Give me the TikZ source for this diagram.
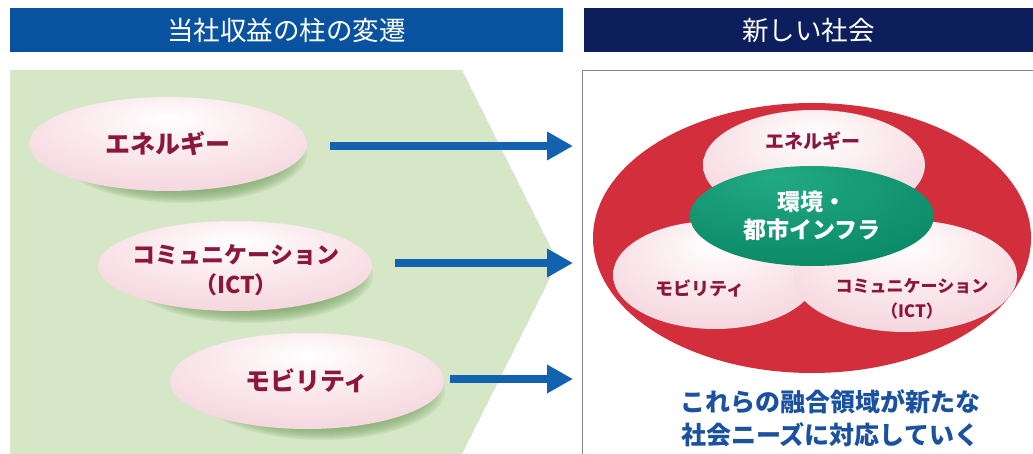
\documentclass[tikz,border=0pt]{standalone}
\usepackage{fontspec}
\newfontfamily\jp{Noto Sans CJK JP}
\usetikzlibrary{shapes.geometric,arrows.meta}
\definecolor{hdrL}{RGB}{8,82,160}
\definecolor{hdrR}{RGB}{12,30,92}
\definecolor{greenbg}{RGB}{214,231,199}
\definecolor{shadowc}{RGB}{120,165,100}
\definecolor{arrowc}{RGB}{18,98,175}
\definecolor{maroon}{RGB}{140,22,62}
\definecolor{pinkedge}{RGB}{240,196,208}
\definecolor{pinkmid}{RGB}{250,232,236}
\definecolor{redc}{RGB}{210,46,60}
\definecolor{greenca}{RGB}{34,170,132}
\definecolor{greencb}{RGB}{0,122,88}
\definecolor{capblue}{RGB}{26,82,160}
\definecolor{boxline}{RGB}{120,135,160}
\pgfdeclareradialshading{pinkshade}{\pgfpoint{0bp}{14bp}}{color(0bp)=(white); color(18bp)=(pinkmid); color(50bp)=(pinkedge); color(80bp)=(pinkedge)}
\pgfdeclareradialshading{greenshade}{\pgfpoint{-8bp}{20bp}}{color(0bp)=(greenca); color(55bp)=(greencb); color(80bp)=(greencb)}
\begin{document}
\begin{tikzpicture}[x=1pt,y=-1pt,
  hdr/.style={minimum height=44pt, inner sep=0pt, text=white, font=\jp\fontsize{26.5}{30}\selectfont},
  pill/.style={ellipse, shade, shading=pinkshade, inner sep=0pt},
  plab/.style={inner sep=0pt, align=center, text=maroon, font=\jp\bfseries\fontsize{25}{30}\selectfont},
  rpill/.style={ellipse, shade, shading=pinkshade, inner sep=0pt},
  rlab/.style={inner sep=0pt, align=center, text=maroon, font=\jp\bfseries\fontsize{18}{25}\selectfont},
  arr/.style={draw=arrowc, line width=8pt, -{Triangle[length=26pt,width=27pt]}},
  shadowfill/.style={fill=shadowc, opacity=0.15}
]
\useasboundingbox (0,0) rectangle (1033,454);
\fill[white] (0,0) rectangle (1033,454);
% headers
\node[hdr, fill=hdrL, minimum width=553pt] (h1) at (286.5,30) {当社収益の柱の変遷};
\node[hdr, fill=hdrR, minimum width=449pt] (h2) at (808.5,30) {新しい社会};
% green chevron
\fill[greenbg] (10,70) -- (462,70) -- (558,262) -- (462,454) -- (10,454) -- cycle;
% right box
\node[draw=boxline, line width=1pt, fill=white, anchor=north west, minimum width=470pt, minimum height=400pt, inner sep=0pt] (box) at (582,70) {};
% left shadows (soft, layered)
\foreach \s in {0,1.5,...,12}{
  \fill[shadowfill] (183,154) ellipse ({124pt-2*\s pt} and {49pt-\s pt});
  \fill[shadowfill] (250,276) ellipse ({123pt-2*\s pt} and {47pt-\s pt});
  \fill[shadowfill] (322,391) ellipse ({123pt-2*\s pt} and {49pt-\s pt});
}
% left pills
\node[pill, minimum width=278pt, minimum height=94pt] (l1) at (168,144) {};
\node[pill, minimum width=274pt, minimum height=90pt] (l2) at (235,266) {};
\node[pill, minimum width=274pt, minimum height=96pt] (l3) at (307,381) {};
\node[plab] (l1t) at (l1.center) {エネルギー};
\node[plab, font=\jp\bfseries\fontsize{23}{30}\selectfont] (l2t) at (236,270) {コミュニケーション\\（ICT）};
\node[plab] (l3t) at (l3.center) {モビリティ};
% arrows
\coordinate (t1) at (573,146);
\coordinate (t2) at (573,263);
\coordinate (t3) at (573,379);
\draw[arr] (l1.east |- t1) ++(23,0) -- (t1);
\draw[arr] (l2.east |- t2) ++(23,0) -- (t2);
\draw[arr] (l3.east |- t3) ++(6,0) -- (t3);
% right venn
\node[ellipse, fill=redc, minimum width=438pt, minimum height=270pt, inner sep=0pt] (red) at (812,238) {};
\node[rpill, minimum width=222pt, minimum height=110pt] (r1) at (814,165) {};
\node[rpill, minimum width=204pt, minimum height=108pt] (r2) at (715,275) {};
\node[rpill, minimum width=224pt, minimum height=112pt] (r3) at (905,276) {};
\node[ellipse, shade, shading=greenshade, minimum width=244pt, minimum height=100pt, inner sep=0pt] (gr) at (812,216) {};
\node[rlab, font=\jp\bfseries\fontsize{19}{25}\selectfont] (r1t) at (813,141) {エネルギー};
\node[rlab] (r2t) at (700,288) {モビリティ};
\node[rlab, font=\jp\bfseries\fontsize{17}{25}\selectfont] (r3t) at (912,299) {コミュニケーション\\（ICT）};
\node[inner sep=0pt, align=center, text=white, font=\jp\bfseries\fontsize{23}{28}\selectfont] (grt) at (812,216) {環境・\\都市インフラ};
\node[inner sep=0pt, align=center, text=capblue, font=\jp\bfseries\fontsize{25}{33}\selectfont] (cap) at (830,418) {これらの融合領域が新たな\\社会ニーズに対応していく};
\end{tikzpicture}
\end{document}
